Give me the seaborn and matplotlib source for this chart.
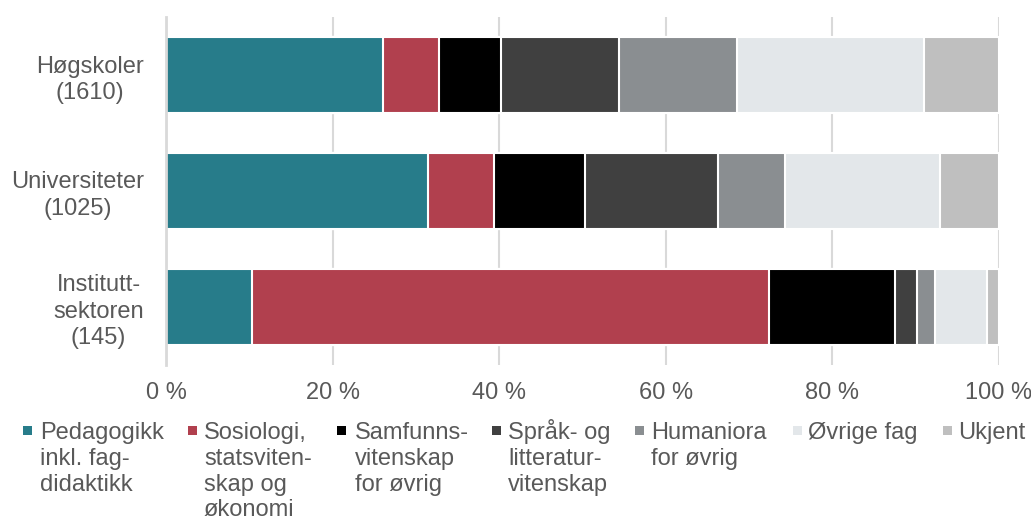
import numpy as np
import pandas as pd
import matplotlib
matplotlib.use('Agg')
import matplotlib.pyplot as plt
from matplotlib.patches import Rectangle
import seaborn as sns

# data (percent of each sector)
sectors = ["Høgskoler\n(1610)", "Universiteter\n(1025)", "Institutt-\nsektoren\n(145)"]
fields = ["Pedagogikk\ninkl. fag-\ndidaktikk",
          "Sosiologi,\nstatsviten-\nskap og\nøkonomi",
          "Samfunns-\nvitenskap\nfor øvrig",
          "Språk- og\nlitteratur-\nvitenskap",
          "Humaniora\nfor øvrig",
          "Øvrige fag",
          "Ukjent"]
pedagogikk = [26.1, 31.5, 10.3]
sosiologi = [6.7, 7.9, 62.1]
samfunn = [7.4, 10.9, 15.1]
sprak = [14.2, 16.0, 2.7]
humaniora = [14.2, 8.0, 2.1]
ovrige = [22.4, 18.6, 6.3]
ukjent = [9.0, 7.1, 1.4]
colors = ["#277C8A", "#B1404E", "#000000", "#404040", "#8A8E91", "#E3E7EA", "#BFBFBF"]

df = pd.DataFrame([pedagogikk, sosiologi, samfunn, sprak, humaniora, ovrige, ukjent],
                  index=fields, columns=sectors).T
cum = df.cumsum(axis=1)

sns.set_style("white")
plt.rcParams['font.family'] = ['Liberation Sans', 'DejaVu Sans']
text_col = "#595959"

fig = plt.figure(figsize=(10.31, 5.21), dpi=100)
ax = fig.add_axes([166/1031, 1 - 365/521, 833/1031, 348/521])

# stacked bars: draw cumulative totals from the largest down
for i in range(len(fields) - 1, -1, -1):
    sns.barplot(x=cum.iloc[:, i].values, y=sectors, order=sectors, orient='h',
                color=colors[i], width=0.65, edgecolor="white", linewidth=1.5,
                saturation=1, ax=ax, zorder=2)

ax.set_xlim(0, 100)
ax.set_xticks(np.arange(0, 101, 20))
ax.set_xticklabels([f"{v} %" for v in range(0, 101, 20)])
ax.xaxis.grid(True, color="#D9D9D9", linewidth=1.5, zorder=0)
ax.set_axisbelow(True)
for s in ["top", "right", "bottom"]:
    ax.spines[s].set_visible(False)
ax.spines["left"].set_color("#D9D9D9")
ax.spines["left"].set_linewidth(2)
ax.tick_params(axis='x', length=0, pad=12, labelsize=17, labelcolor=text_col)
ax.tick_params(axis='y', length=0, pad=16, labelsize=17, labelcolor=text_col)
for lab in ax.get_yticklabels():
    lab.set_multialignment('center')
    lab.set_linespacing(1.25)
ax.set_xlabel("")
ax.set_ylabel("")

# legend built by hand so the markers sit on the first line of each label
marker_x = [23, 188, 337, 492, 635, 793, 943]
text_x = [40, 204, 355, 508, 651, 808, 958]
for i, name in enumerate(fields):
    fig.patches.append(Rectangle((marker_x[i] / 1031, 1 - 435 / 521), 9 / 1031, 9 / 521,
                                 transform=fig.transFigure, facecolor=colors[i],
                                 edgecolor="none"))
    for k, line in enumerate(name.split("\n")):
        fig.text(text_x[i] / 1031, 1 - (439 + 25.8 * k) / 521, line, ha='left',
                 va='baseline', fontsize=17, color=text_col)

plt.savefig("out.png", dpi=100)
